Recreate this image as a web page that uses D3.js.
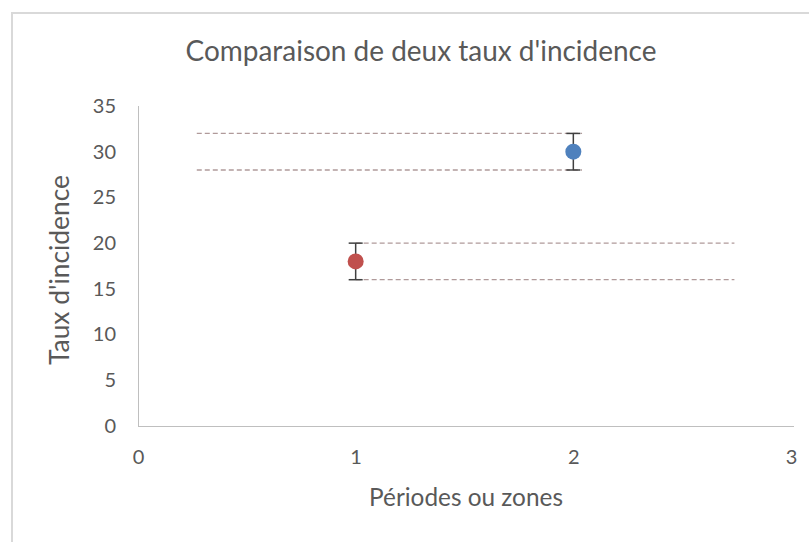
<!DOCTYPE html>
<html><head><meta charset="utf-8">
<script src="https://cdn.jsdelivr.net/npm/d3@7"></script>
<style>body{margin:0;background:#fff}svg{display:block}text{font-family:Lato,"Open Sans",sans-serif;fill:#595959}</style>
</head><body>
<script>
const title = "Comparaison de deux taux d'incidence";
const xTitle = "Périodes ou zones";
const yTitle = "Taux d'incidence";
const periods = [1, 2];
const rates = [18, 30];
const lowerCI = [16, 28];
const upperCI = [20, 32];
const pointColors = ["#c0504d", "#4f81bd"];
const refStart = [1.0, 0.27];
const refEnd = [2.74, 2.04];
const xTicks = [0, 1, 2, 3];
const yTicks = [0, 5, 10, 15, 20, 25, 30, 35];

const W = 809, H = 542;
const svg = d3.select("body").append("svg").attr("width", W).attr("height", H);
// chart frame
svg.append("path").attr("d", `M12,${H+5}V13H${W+5}`).attr("fill","none").attr("stroke","#d9d9d9").attr("stroke-width",2);

const x = d3.scaleLinear().domain([0, 3]).range([138, 791]);
const y = d3.scaleLinear().domain([0, 35]).range([426, 106]);

function fit(sel, w){ const n=sel.node(); const cur=n.getComputedTextLength(); const fs=parseFloat(sel.attr("font-size")); sel.attr("font-size", fs*w/cur); }

const t = svg.append("text").attr("x", 421).attr("y", 61).attr("text-anchor","middle").attr("font-size",24).text(title);
fit(t, 471);

// axes
const xAxis = svg.append("g").attr("transform", `translate(0,${y(0)})`).call(d3.axisBottom(x).tickValues(xTicks).tickSize(0).tickPadding(24).tickFormat(d3.format("d")));
xAxis.select(".domain").attr("stroke","#bfbfbf").attr("d", `M${x(0)},0.5H${x(3)+3}`);
xAxis.selectAll("text").attr("font-size",20).style("font-family","Lato,sans-serif").attr("fill","#595959");
const yAxis = svg.append("g").attr("transform", `translate(${x(0)},0)`).call(d3.axisLeft(y).tickValues(yTicks).tickSize(0).tickPadding(22).tickFormat(d3.format("d")));
yAxis.select(".domain").attr("stroke","#bfbfbf").attr("d", `M0.5,${y(35)}V${y(0)}`);
yAxis.selectAll("text").attr("font-size",20).style("font-family","Lato,sans-serif").attr("fill","#595959");

const xt = svg.append("text").attr("x", 466).attr("y", 506).attr("text-anchor","middle").attr("font-size",20).text(xTitle);
fit(xt, 194);
const yt = svg.append("text").attr("transform","translate(69,270) rotate(-90)").attr("text-anchor","middle").attr("font-size",20).text(yTitle);
fit(yt, 190);

// reference dashed lines
const g = svg.append("g");
periods.forEach((p, i) => {
  [lowerCI[i], upperCI[i]].forEach(v => {
    g.append("line").attr("x1", x(refStart[i])).attr("x2", x(refEnd[i])).attr("y1", y(v)).attr("y2", y(v))
      .attr("stroke","#b09a9a").attr("stroke-width",1.3).attr("stroke-dasharray","5,3");
  });
});
// error bars
periods.forEach((p, i) => {
  const cx = x(p);
  g.append("line").attr("x1",cx).attr("x2",cx).attr("y1",y(lowerCI[i])).attr("y2",y(upperCI[i])).attr("stroke","#404040").attr("stroke-width",1.5);
  [lowerCI[i], upperCI[i]].forEach(v => g.append("line").attr("x1",cx-7).attr("x2",cx+7).attr("y1",y(v)).attr("y2",y(v)).attr("stroke","#404040").attr("stroke-width",1.5));
});
g.selectAll("circle.pt").data(periods).join("circle").attr("class","pt")
  .attr("cx", d => x(d)).attr("cy", (d,i) => y(rates[i])).attr("r", 8).attr("fill", (d,i) => pointColors[i]);
</script>
</body></html>
